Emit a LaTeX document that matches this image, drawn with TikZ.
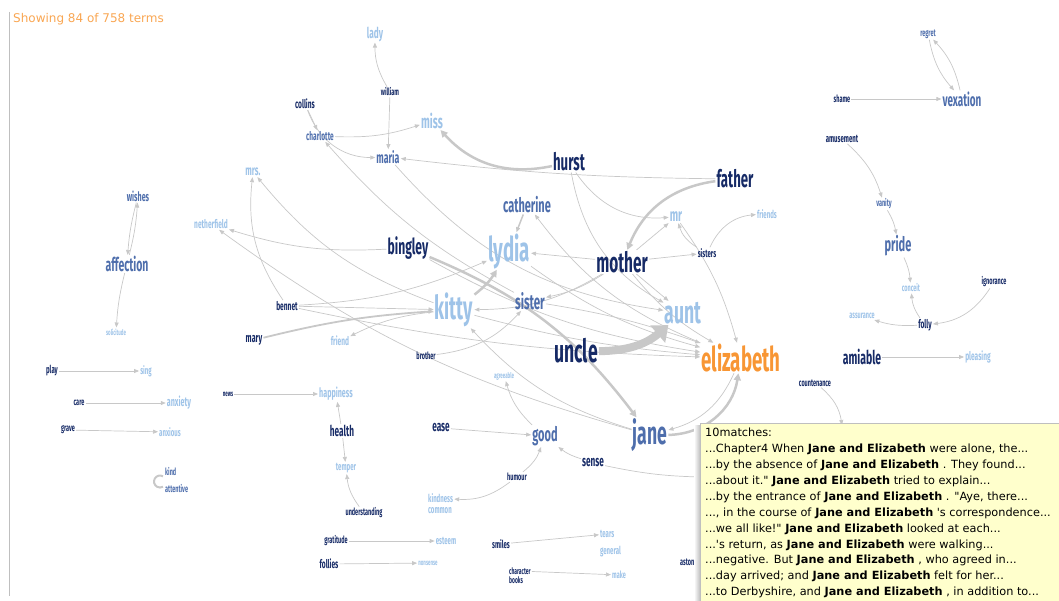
\documentclass[tikz,border=0pt]{standalone}
\usepackage{fontspec}
\setmainfont{DejaVu Sans}
\newfontfamily\termfont[FakeStretch=0.55]{Fira Sans}
\newfontfamily\tipfont{DejaVu Sans}
\usetikzlibrary{arrows.meta,backgrounds}
\definecolor{termnavy}{RGB}{22,42,102}
\definecolor{termsteel}{RGB}{78,110,172}
\definecolor{termpale}{RGB}{158,195,232}
\definecolor{termorange}{RGB}{248,150,52}
\definecolor{linkgray}{RGB}{200,200,200}
\definecolor{tipyellow}{RGB}{255,255,204}
\tikzset{
  term/.style={font=\termfont\bfseries\fontsize{#1}{#1}\selectfont,
    inner sep=1pt},
  navy/.style={text=termnavy},
  steel/.style={text=termsteel},
  pale/.style={text=termpale},
  hot/.style={text=termorange},
  link/.style={draw=linkgray, line width=0.7pt,
    -{Triangle[length=5pt,width=4pt]}},
  strong link/.style={draw=linkgray, line width=2.5pt,
    -{Triangle[length=7pt,width=7pt]}},
  heavy link/.style={draw=linkgray, line width=8pt,
    -{Triangle[length=14pt,width=22pt]}},
  tipbox/.style={draw=black!25, fill=tipyellow, inner sep=0pt,
    minimum width=370pt, minimum height=190pt, anchor=north west},
  tiptext/.style={font=\tipfont\fontsize{11.3}{15.9}\selectfont,
    align=left, inner sep=0pt, anchor=north west}
}

\begin{document}
\begin{tikzpicture}[x=1pt,y=-1pt]
  \useasboundingbox (0,0) rectangle (1059,601);

  % frame and heading
  \draw[black!25] (9,12) -- (9,596);
  \node[font=\fontsize{12}{12}\selectfont, text=termorange!85,
    anchor=west, inner sep=0pt] (count) at (13,19)
    {Showing 84 of 758 terms};

  % The terms
  \node[term=15, pale]  (lady)        at (375,34)  {lady};
  \node[term=10, navy]  (william)     at (390,92)  {william};
  \node[term=12, navy]  (collins)     at (305,104) {collins};
  \node[term=12, steel] (charlotte)   at (320,136) {charlotte};
  \node[term=19, pale]  (miss)        at (432,121) {miss};
  \node[term=16, steel] (maria)       at (388,157) {maria};
  \node[term=24, navy]  (hurst)       at (569,162) {hurst};
  \node[term=14, pale]  (mrs)         at (253,172) {mrs.};
  \node[term=13, steel] (wishes)      at (138,196) {wishes};
  \node[term=20, steel] (catherine)   at (527,205) {catherine};
  \node[term=24, navy]  (father)      at (735,179) {father};
  \node[term=10, steel] (regret)      at (928,34)  {regret};
  \node[term=10, navy]  (shame)       at (842,99)  {shame};
  \node[term=18, steel] (vexation)    at (962,99)  {vexation};
  \node[term=11, navy]  (amusement)   at (842,139) {amusement};
  \node[term=10, steel] (vanity)      at (884,204) {vanity};
  \node[term=12, pale]  (netherfield) at (211,224) {netherfield};
  \node[term=18, pale]  (mr)          at (676,217) {mr};
  \node[term=11, pale]  (friends)     at (767,214) {friends};
  \node[term=19, steel] (affection)   at (127,264) {affection};
  \node[term=22, navy]  (bingley)     at (408,248) {bingley};
  \node[term=34, pale]  (lydia)       at (509,251) {lydia};
  \node[term=28, navy]  (mother)      at (622,262) {mother};
  \node[term=11, navy]  (sisters)     at (707,253) {sisters};
  \node[term=20, steel] (pride)       at (898,246) {pride};
  \node[term=12, navy]  (bennet)      at (287,306) {bennet};
  \node[term=21, steel] (sister)      at (530,301) {sister};
  \node[term=33, pale]  (kitty)       at (454,310) {kitty};
  \node[term=32, pale]  (aunt)        at (683,313) {aunt};
  \node[term=10, pale]  (conceit)     at (911,288) {conceit};
  \node[term=10, navy]  (ignorance)   at (994,282) {ignorance};
  \node[term=10, pale]  (assurance)   at (862,316) {assurance};
  \node[term=12, navy]  (folly)       at (925,325) {folly};
  \node[term=8,  pale]  (solicitude)  at (116,332) {solicitude};
  \node[term=13, navy]  (mary)        at (254,340) {mary};
  \node[term=12, pale]  (friend)      at (340,341) {friend};
  \node[term=32, navy]  (uncle)       at (576,351) {uncle};
  \node[term=34, hot]   (elizabeth)   at (741,358) {elizabeth};
  \node[term=10, navy]  (brother)     at (426,356) {brother};
  \node[term=19, navy]  (amiable)     at (862,357) {amiable};
  \node[term=12, pale]  (pleasing)    at (978,357) {pleasing};
  \node[term=8,  pale]  (agreeable)   at (504,376) {agreeable};
  \node[term=10, navy]  (countenance) at (815,383) {countenance};
  \node[term=11, navy]  (play)        at (52,371)  {play};
  \node[term=11, pale]  (sing)        at (146,371) {sing};
  \node[term=8,  navy]  (news)        at (228,394) {news};
  \node[term=13, pale]  (happiness)   at (336,394) {happiness};
  \node[term=10, navy]  (care)        at (79,403)  {care};
  \node[term=13, pale]  (anxiety)     at (179,403) {anxiety};
  \node[term=10, navy]  (grave)       at (68,430)  {grave};
  \node[term=11, pale]  (anxious)     at (170,432) {anxious};
  \node[term=15, navy]  (health)      at (342,431) {health};
  \node[term=15, navy]  (ease)        at (441,428) {ease};
  \node[term=20, steel] (good)        at (545,436) {good};
  \node[term=32, steel] (jane)        at (650,435) {jane};
  \node[term=15, navy]  (sense)       at (593,463) {sense};
  \node[term=11, pale]  (temper)      at (346,468) {temper};
  \node[term=10, navy]  (humour)      at (517,477) {humour};
  \node[term=10, steel, anchor=west] (kind)      at (164,472) {kind};
  \node[term=10, steel, anchor=west] (attentive) at (164,489) {attentive};
  \node[term=11, pale, anchor=west]  (kindness)  at (427,498) {kindness};
  \node[term=11, pale, anchor=west]  (common)    at (427,511) {common};
  \node[term=10, navy]  (understanding) at (364,513) {understanding};
  \node[term=10, navy]  (gratitude)   at (336,541) {gratitude};
  \node[term=11, pale]  (esteem)      at (446,541) {esteem};
  \node[term=12, navy]  (follies)     at (329,564) {follies};
  \node[term=8,  pale]  (nonsense)    at (428,563) {nonsense};
  \node[term=11, navy]  (smiles)      at (501,544) {smiles};
  \node[term=11, pale, anchor=west]  (tears)     at (599,534) {tears};
  \node[term=11, pale, anchor=west]  (general)   at (599,552) {general};
  \node[term=9, navy, anchor=west]   (character) at (508,571) {character};
  \node[term=9, navy, anchor=west]   (books)     at (508,580) {books};
  \node[term=10, pale]  (make)        at (619,575) {make};
  \node[term=10, navy, anchor=west]  (astonishment) at (679,562) {astoni};
  \coordinate (hidsense) at (700,477);
  \coordinate (hidcount) at (842,425);

  % The links, behind the terms
  \begin{scope}[on background layer]
    \draw[link] (william) to[bend left=15] (lady);
    \draw[link] (william) -- (maria);
    \draw[link] (collins) -- (charlotte);
    \draw[link] (collins) to[bend right=35] (maria);
    \draw[link] (charlotte) to[bend right=10] (miss);
    \draw[link] (father) to[bend left=3] (maria);
    \draw[link] (hurst) to[bend right=30] (mr);
    \draw[link] (hurst) to[bend right=25] (aunt);
    \draw[link] (maria) to[bend right=20] (aunt);
    \draw[link] (mother) -- (mr);
    \draw[link] (sisters) to[bend left=20] (mr);
    \draw[link] (sisters) to[bend left=30] (friends);
    \draw[link] (mr) to[bend left=10] (elizabeth);
    \draw[link] (mother) -- (sisters);
    \draw[link] (mother) -- (lydia);
    \draw[link] (mother) to[bend left=10] (sister);
    \draw[link] (mother) to[bend left=15] (kitty);
    \draw[link] (mother) -- (aunt);
    \draw[link] (mother) to[bend right=10] (elizabeth);
    \draw[link] (elizabeth) to[bend left=15] (catherine);
    \draw[link] (bingley) to[bend left=10] (netherfield);
    \draw[link] (bingley) to[bend right=10] (elizabeth);
    \draw[link] (kitty) to[bend right=10] (friend);
    \draw[link] (kitty) to[bend right=5] (elizabeth);
    \draw[link] (kitty) to[bend left=15] (mrs);
    \draw[link] (bennet) to[bend left=20] (mrs);
    \draw[link] (bennet) -- (kitty);
    \draw[link] (bennet) to[bend right=10] (lydia);
    \draw[link] (bennet) to[bend right=5] (elizabeth);
    \draw[link] (sister) to[bend left=5] (elizabeth);
    \draw[link] (sister) to[bend left=10] (charlotte);
    \draw[link] (brother) to[bend right=20] (sister);
    \draw[link] (jane) to[bend left=15] (kitty);
    \draw[link] (jane) to[bend left=10] (netherfield);
    \draw[link] (elizabeth) to[bend left=25] (jane);
    \draw[link] (lydia) to[bend right=10] (elizabeth);
    \draw[link] (good) to[bend left=15] (agreeable);
    \draw[link] (ease) -- (good);
    \draw[link] (humour) to[bend right=15] (good);
    \draw[link] (humour) to[bend left=20] (kindness);
    \draw[link] (sense) to[bend left=10] (good);
    \draw[link] (sense) to[bend right=5] (hidsense);
    \draw[link] (news) -- (happiness);
    \draw[link] (health) -- (happiness);
    \draw[link] (health) -- (temper);
    \draw[link] (understanding) to[bend left=15] (temper);
    \draw[link] (care) -- (anxiety);
    \draw[link] (grave) -- (anxious);
    \draw[link] (play) -- (sing);
    \draw[link] (gratitude) -- (esteem);
    \draw[link] (follies) -- (nonsense);
    \draw[link] (smiles) -- (tears);
    \draw[link] (character) -- (make);
    \draw[link] (wishes) to[bend right=5] (affection);
    \draw[link] (affection) to[bend right=5] (wishes);
    \draw[link] (affection) to[bend right=5] (solicitude);
    \draw[link] (regret) to[bend right=15] (vexation);
    \draw[link] (vexation) to[bend right=15] (regret);
    \draw[link] (shame) -- (vexation);
    \draw[link] (amusement) to[bend left=15] (vanity);
    \draw[link] (vanity) to[bend left=10] (pride);
    \draw[link] (pride) to[bend left=10] (conceit);
    \draw[link] (folly) to[bend left=15] (conceit);
    \draw[link] (folly) to[bend left=10] (assurance);
    \draw[link] (ignorance) to[bend left=25] (folly);
    \draw[link] (amiable) -- (pleasing);
    \draw[link] (countenance) to[bend left=20] (hidcount);
    \draw[link, line width=1.5pt] (catherine) -- (lydia);
    \draw[link, line width=1.8pt] (mary) to[bend left=5] (kitty);
    \draw[strong link] (kitty) to[bend right=10] (lydia);
    \draw[strong link] (hurst) to[bend left=30] (miss);
    \draw[strong link] (father) to[bend right=30] (mother);
    \draw[strong link] (bingley) to[bend left=15] (jane);
    \draw[strong link] (jane) to[bend right=40] (elizabeth);
    \draw[heavy link] (uncle) to[bend right=20] (aunt);
    % self loop
    \draw[draw=linkgray, line width=2pt] ([shift={(-1,-1)}]kind.south west)
      arc[start angle=-60, end angle=-300, radius=6];
  \end{scope}

  % The match list
  \shade[left color=white, right color=black!25]
    (694,425) rectangle (700,601);
  \node[tipbox] (tip) at (700,423) {};
  \node[tiptext] (matches) at ([shift={(5,5)}]tip.north west) {%
    10matches:\\
    ...Chapter4 When \textbf{Jane and Elizabeth} were alone, the...\\
    ...by the absence of \textbf{Jane and Elizabeth} . They found...\\
    ...about it." \textbf{Jane and Elizabeth} tried to explain...\\
    ...by the entrance of \textbf{Jane and Elizabeth} . "Aye, there...\\
    ..., in the course of \textbf{Jane and Elizabeth} 's correspondence...\\
    ...we all like!" \textbf{Jane and Elizabeth} looked at each...\\
    ...'s return, as \textbf{Jane and Elizabeth} were walking...\\
    ...negative. But \textbf{Jane and Elizabeth} , who agreed in...\\
    ...day arrived; and \textbf{Jane and Elizabeth} felt for her...\\
    ...to Derbyshire, and \textbf{Jane and Elizabeth} , in addition to...};
\end{tikzpicture}
\end{document}
